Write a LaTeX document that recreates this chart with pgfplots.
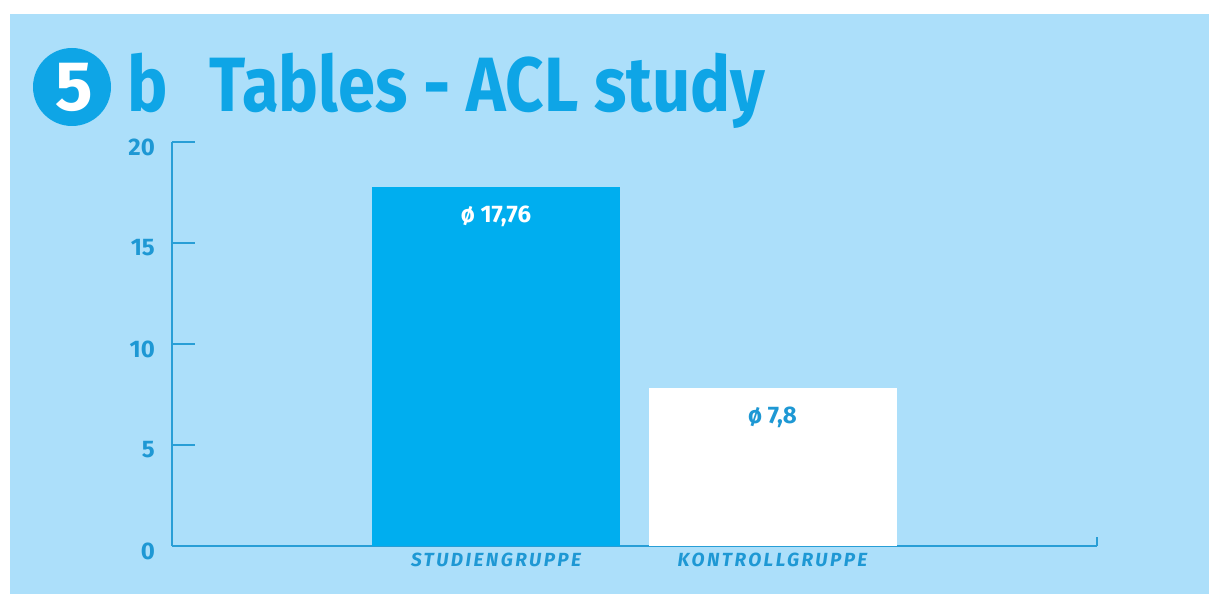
\documentclass[border=0pt]{standalone}
\usepackage{pgfplots}
\pgfplotsset{compat=1.18}
\usepackage{fontspec}
\setmainfont{Fira Sans}
\definecolor{bgblue}{RGB}{172,223,250}
\definecolor{barblue}{RGB}{0,174,239}
\definecolor{titleblue}{RGB}{14,165,230}
\definecolor{tickblue}{RGB}{30,152,212}
\definecolor{axisblue}{RGB}{40,158,214}
\begin{document}
\begin{tikzpicture}[x=1pt,y=1pt]
\fill[white] (0,0) rectangle (1209,594);
\fill[bgblue] (10,0) rectangle (1209,580);
% title
\fill[titleblue] (72,507) circle (39);
\node[text=white, font=\fontsize{70}{70}\selectfont\bfseries, inner sep=0] at (74,507) {5};
\node[anchor=base west, inner sep=0, xscale=0.88, text=titleblue, font=\fontsize{77}{77}\selectfont\bfseries] at (127,482) {b};
\node[anchor=base west, inner sep=0, xscale=0.87, text=titleblue, font=\fontsize{77}{77}\selectfont\bfseries] at (209,482) {Tables - ACL study};
\begin{axis}[
  at={(172pt,48pt)}, anchor=south west,
  scale only axis, width=925pt, height=404pt,
  xmin=-1.1718, xmax=2.1736, ymin=0, ymax=20,
  axis x line=bottom, axis y line=left,
  axis line style={-, draw=axisblue, line width=1.6pt},
  tick align=inside, major tick length=23pt,
  every tick/.style={draw=axisblue, line width=1.6pt},
  ytick={0,5,10,15,20},
  xtick={0,1},
  xticklabels={STUDIENGRUPPE, KONTROLLGRUPPE},
  xtick style={draw=none},
  extra x ticks={2.1736},
  extra x tick labels={},
  extra x tick style={xtick style={draw=axisblue, line width=1.6pt}, major tick length=9pt},
  /pgf/number format/assume math mode=true,
  yticklabel style={font=\fontsize{24}{24}\selectfont\bfseries, text=tickblue, inner sep=0pt, xshift=-17pt, yshift=-5pt},
  xticklabel style={font=\fontsize{19}{19}\selectfont\bfseries\itshape\addfontfeature{LetterSpace=13}, text=tickblue, inner sep=0pt, yshift=-7pt},
  clip=false,
]
\addplot[ybar, fill=barblue, draw=none, bar width=0.897, bar shift=0,
  nodes near coords={ø 17,76},
  every node near coord/.append style={anchor=north, inner sep=0pt, yshift=-18pt, text=white, font=\fontsize{24}{24}\selectfont\bfseries}]
  coordinates {(0,17.76)};
\addplot[ybar, fill=white, draw=none, bar width=0.897, bar shift=0,
  nodes near coords={ø 7,8},
  every node near coord/.append style={anchor=north, inner sep=0pt, yshift=-18pt, text=tickblue, font=\fontsize{24}{24}\selectfont\bfseries}]
  coordinates {(1,7.8)};
\end{axis}
\end{tikzpicture}
\end{document}
